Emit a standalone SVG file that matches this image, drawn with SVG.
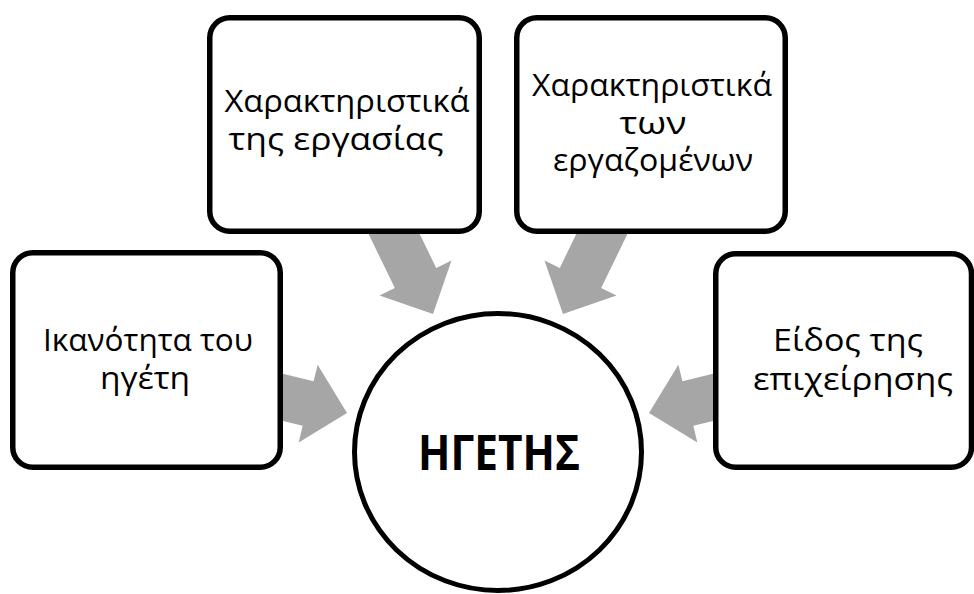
<svg xmlns="http://www.w3.org/2000/svg" width="974" height="594" viewBox="0 0 974 594">
  <style>
    .box { fill: #ffffff; stroke: #000000; stroke-width: 5.5; }
    .hub { fill: #ffffff; stroke: #000000; stroke-width: 5; }
    .arrow { fill: #a6a6a6; stroke: none; }
    .lbl { font-family: "Open Sans", "Noto Sans", "DejaVu Sans", sans-serif; font-size: 31px; fill: #000000; text-anchor: middle; }
    .hubtxt { font-family: "Open Sans", "Noto Sans", "DejaVu Sans", sans-serif; font-size: 48px; font-weight: bold; fill: #000000; text-anchor: middle; }
  </style>
  <defs>
    <!-- block arrow, tip at origin, pointing along +x -->
    <polygon id="blockArrow" points="0,0 -40,-40 -40,-23 -140,-23 -140,23 -40,23 -40,40"/>
  </defs>

  <rect width="974" height="594" fill="#ffffff"/>

  <g id="connectors">
    <use href="#blockArrow" class="arrow" transform="translate(347,413) rotate(13.7)"/>
    <use href="#blockArrow" class="arrow" transform="translate(433,314) rotate(64.1)"/>
    <use href="#blockArrow" class="arrow" transform="translate(563,314) rotate(115.9)"/>
    <use href="#blockArrow" class="arrow" transform="translate(649,413) rotate(166.3)"/>
  </g>

  <g id="node-leader-ability">
    <rect class="box" x="12.75" y="252.75" width="267.5" height="214.5" rx="20" ry="20"/>
    <text class="lbl" x="148" y="351" textLength="210" lengthAdjust="spacingAndGlyphs">Ικανότητα του</text>
    <text class="lbl" x="145" y="389" textLength="90" lengthAdjust="spacingAndGlyphs">ηγέτη</text>
  </g>

  <g id="node-work-traits">
    <rect class="box" x="209.75" y="17.75" width="269.5" height="213.5" rx="20" ry="20"/>
    <text class="lbl" x="347" y="112" textLength="245" lengthAdjust="spacingAndGlyphs">Χαρακτηριστικά</text>
    <text class="lbl" x="336" y="150" textLength="215" lengthAdjust="spacingAndGlyphs">της εργασίας</text>
  </g>

  <g id="node-employee-traits">
    <rect class="box" x="516.75" y="17.75" width="268.5" height="213.5" rx="20" ry="20"/>
    <text class="lbl" x="652" y="96" textLength="240" lengthAdjust="spacingAndGlyphs">Χαρακτηριστικά</text>
    <text class="lbl" x="653" y="134" textLength="67" lengthAdjust="spacingAndGlyphs">των</text>
    <text class="lbl" x="653" y="171" textLength="200" lengthAdjust="spacingAndGlyphs">εργαζομένων</text>
  </g>

  <g id="node-business-type">
    <rect class="box" x="715.75" y="253.75" width="255.75" height="213.5" rx="20" ry="20"/>
    <text class="lbl" x="848" y="351" textLength="150" lengthAdjust="spacingAndGlyphs">Είδος της</text>
    <text class="lbl" x="853" y="390" textLength="200" lengthAdjust="spacingAndGlyphs">επιχείρησης</text>
  </g>

  <g id="node-leader">
    <ellipse class="hub" cx="498" cy="452" rx="143.5" ry="138.5"/>
    <text class="hubtxt" x="499" y="470" textLength="162" lengthAdjust="spacingAndGlyphs">ΗΓΕΤΗΣ</text>
  </g>
</svg>
